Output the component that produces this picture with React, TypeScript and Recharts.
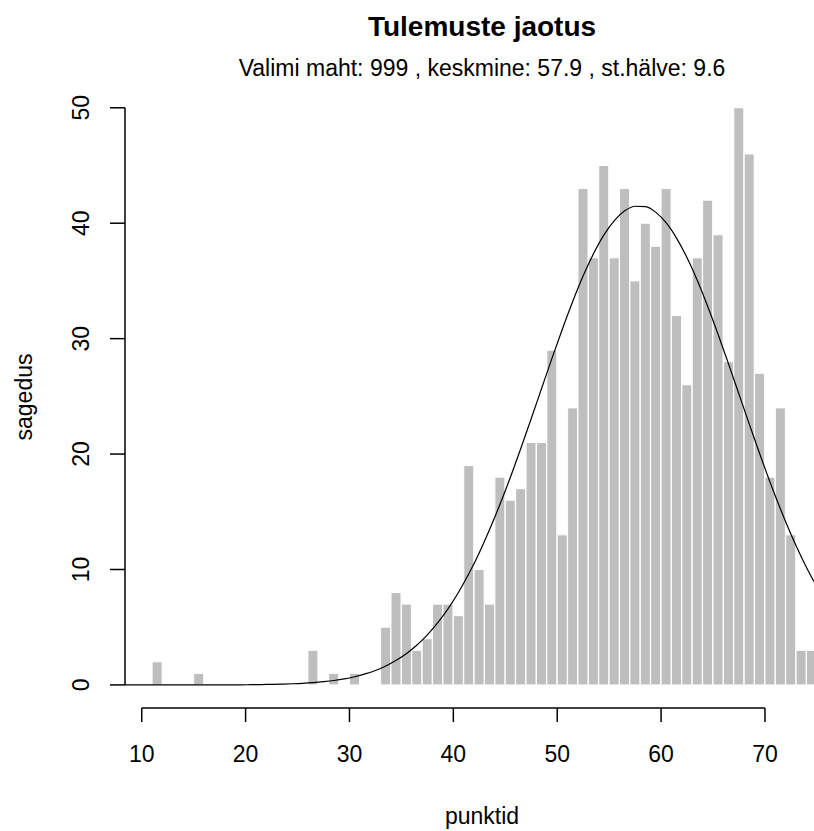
import { Bar, ComposedChart, Line, ReferenceLine, XAxis, YAxis } from "recharts";

// histogram bins [start, start + 1)
const binStarts = [
  7, 8, 9, 10, 11, 12, 13, 14, 15, 16, 17, 18, 19, 20, 21, 22, 23, 24, 25, 26, 27, 28, 29, 30, 31, 32, 33, 34,
  35, 36, 37, 38, 39, 40, 41, 42, 43, 44, 45, 46, 47, 48, 49, 50, 51, 52, 53, 54, 55, 56, 57, 58, 59, 60, 61,
  62, 63, 64, 65, 66, 67, 68, 69, 70, 71, 72, 73, 74, 75,
];
const counts = [
  0, 0, 0, 0, 2, 0, 0, 0, 1, 0, 0, 0, 0, 0, 0, 0, 0, 0, 0, 3, 0, 1, 0, 1, 0, 0, 5, 8,
  7, 3, 4, 7, 7, 6, 19, 10, 7, 18, 16, 17, 21, 21, 29, 13, 24, 43, 37, 45, 37, 43, 35, 40, 38, 43, 32,
  26, 37, 42, 39, 28, 50, 46, 27, 18, 24, 13, 3, 3, 0,
];
// normal curve read at bin centres
const curve = [
  0, 0, 0, 0, 0, 0, 0, 0, 0, 0, 0, 0.01, 0.01, 0.02, 0.03, 0.05, 0.07, 0.1, 0.14, 0.2, 0.28, 0.38, 0.52, 0.71, 0.95, 1.25, 1.64, 2.13,
  2.73, 3.46, 4.34, 5.39, 6.61, 8.03, 9.65, 11.46, 13.48, 15.67, 18.02, 20.51, 23.08, 25.7, 28.31, 30.84, 33.24, 35.44, 37.37, 38.99, 40.23, 41.07, 41.47, 41.43, 40.94, 40.02, 38.69,
  37.01, 35.02, 32.77, 30.34, 27.79, 25.18, 22.57, 20.0, 17.54, 15.22, 13.06, 11.09, 9.31, 7.73,
];
const xTicks = [10, 20, 30, 40, 50, 60, 70];
const yTicks = [0, 10, 20, 30, 40, 50];

const rows = binStarts.map((s, i) => ({ x: s + 0.5, count: counts[i], curve: curve[i] }));

const X_MIN = 8.39;
const X_MAX = 74.72;
const font = "'Liberation Sans', Arial, sans-serif";

function XTick(props: any) {
  const { x, y, payload } = props;
  return (
    <text x={x} y={y + 30} textAnchor="middle" dominantBaseline="central" fontSize={23} fontFamily={font} fill="#000">
      {payload.value}
    </text>
  );
}

function YTick(props: any) {
  const { y, payload } = props;
  const cx = 81;
  return (
    <text x={cx} y={y} transform={`rotate(-90 ${cx} ${y})`} textAnchor="middle" dominantBaseline="central" fontSize={23} fontFamily={font} fill="#000">
      {payload.value}
    </text>
  );
}

export default function App() {
  return (
    <div style={{ position: "absolute", left: 0, top: 0, width: 814, height: 831, background: "#fff", fontFamily: font }}>
      <ComposedChart
        width={814}
        height={831}
        data={rows}
        margin={{ top: 84.7, right: 0, bottom: 0, left: 0 }}
        barCategoryGap={0}
        barGap={0}
      >
        <XAxis
          type="number"
          dataKey="x"
          domain={[X_MIN, X_MAX]}
          allowDataOverflow
          ticks={xTicks}
          interval={0}
          height={123}
          axisLine={false}
          tickSize={14}
          tickLine={{ stroke: "#000", strokeWidth: 1.5 }}
          tick={<XTick />}
        />
        <YAxis
          type="number"
          domain={[-2, 52]}
          allowDataOverflow
          ticks={yTicks}
          interval={0}
          width={125}
          axisLine={false}
          tickSize={15}
          tickLine={{ stroke: "#000", strokeWidth: 1.5 }}
          tick={<YTick />}
        />
        <Bar dataKey="count" fill="#bebebe" stroke="#fff" strokeWidth={1} isAnimationActive={false} />
        <Line dataKey="curve" type="monotone" stroke="#000" strokeWidth={1.2} dot={false} isAnimationActive={false} />
        <ReferenceLine segment={[{ x: 10, y: -2 }, { x: 70, y: -2 }]} stroke="#000" strokeWidth={1.5} ifOverflow="visible" />
        <ReferenceLine segment={[{ x: X_MIN, y: 0 }, { x: X_MIN, y: 50 }]} stroke="#000" strokeWidth={1.5} ifOverflow="visible" />
      </ComposedChart>
      <svg width={814} height={831} style={{ position: "absolute", left: 0, top: 0, pointerEvents: "none" }}>
        <text x={482} y={26} textAnchor="middle" dominantBaseline="central" fontSize={28} fontWeight="bold" fontFamily={font}>
          Tulemuste jaotus
        </text>
        <text x={482} y={68} textAnchor="middle" dominantBaseline="central" fontSize={23} fontFamily={font}>
          Valimi maht: 999 , keskmine: 57.9 , st.hälve: 9.6
        </text>
        <text x={482} y={816} textAnchor="middle" dominantBaseline="central" fontSize={23} fontFamily={font}>
          punktid
        </text>
        <text x={23.5} y={397} transform="rotate(-90 23.5 397)" textAnchor="middle" dominantBaseline="central" fontSize={23} fontFamily={font}>
          sagedus
        </text>
      </svg>
    </div>
  );
}
